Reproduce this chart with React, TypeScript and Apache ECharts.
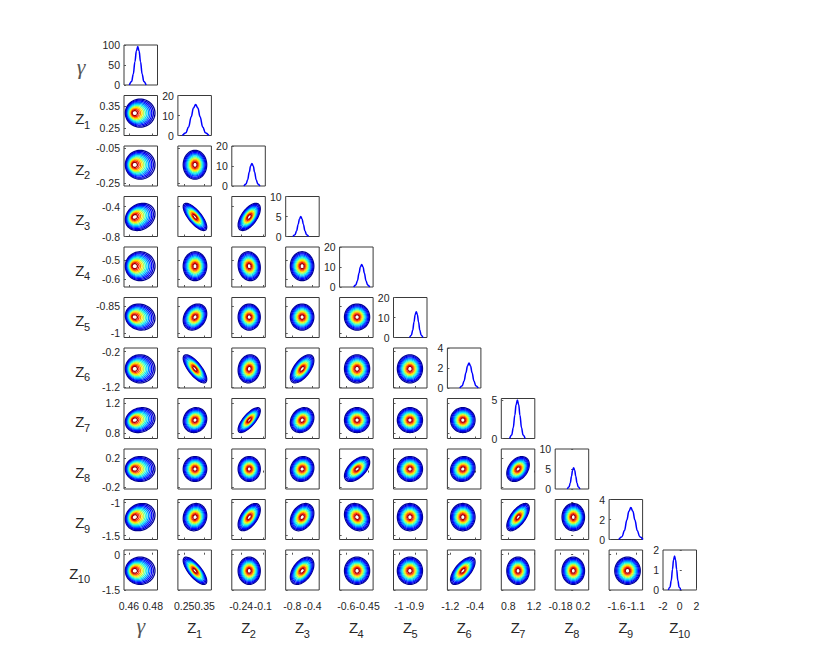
import React, { useEffect, useRef } from "react";
import * as echarts from "echarts";

// ---------- data ----------
const varSubscripts = ["", "1", "2", "3", "4", "5", "6", "7", "8", "9", "10"]; // "" = gamma

// column (x) axis ranges per variable
const xMin = [0.4558, 0.219, -0.3, -0.933, -0.647, -1.033, -1.29, 0.69, -0.27, -1.79, -2];
const xMax = [0.484, 0.383, -0.0846, -0.267, -0.413, -0.825, -0.21, 1.21, 0.297, -0.93, 2];
const xTicks = [
  [0.46, 0.48], [0.25, 0.35], [-0.24, -0.1], [-0.8, -0.4], [-0.6, -0.45],
  [-1, -0.9], [-1.2, -0.4], [0.8, 1.2], [-0.18, 0.2], [-1.6, -1.1], [-2, 0, 2],
];

// row (y) axis ranges per variable (row 0 is gamma, only a density)
const yMin = [0, 0.215, -0.2686, -0.8, -0.64, -1.023, -1.234, 0.731, -0.222, -1.558, -1.5];
const yMax = [0, 0.397, -0.036, -0.263, -0.4325, -0.804, -0.098, 1.264, 0.319, -0.952, 0.2];
const yTicks = [
  [], [0.25, 0.35], [-0.25, -0.05], [-0.8, -0.4], [-0.6, -0.5],
  [-1, -0.85], [-1.2, -0.2], [0.8, 1.2], [-0.2, 0.2], [-1.5, -1], [-1.5, 0],
];

// diagonal densities
const diagMax = [100, 20, 20, 10, 20, 20, 4, 5.25, 10, 4, 2];
const diagTicks = [
  [0, 50, 100], [0, 10, 20], [0, 10, 20], [0, 5, 10], [0, 10, 20],
  [0, 10, 20], [0, 2, 4], [0, 5], [0, 5, 10], [0, 2, 4], [0, 1, 2],
];
const densityX = [
  [0.4603, 0.4622, 0.4636, 0.465, 0.4662, 0.4674, 0.4685, 0.4697, 0.4711, 0.4725, 0.4744],
  [0.241, 0.2583, 0.2713, 0.2843, 0.2951, 0.3059, 0.3167, 0.3276, 0.3405, 0.3535, 0.3709],
  [-0.2221, -0.2084, -0.1981, -0.1878, -0.1792, -0.1706, -0.162, -0.1534, -0.1431, -0.1328, -0.1191],
  [-0.7892, -0.7476, -0.7164, -0.6853, -0.6593, -0.6333, -0.6073, -0.5814, -0.5502, -0.519, -0.4775],
  [-0.5488, -0.5338, -0.5226, -0.5113, -0.502, -0.4926, -0.4832, -0.4739, -0.4626, -0.4514, -0.4364],
  [-0.9334, -0.9223, -0.9139, -0.9055, -0.8986, -0.8916, -0.8846, -0.8777, -0.8693, -0.8609, -0.8498],
  [-0.8915, -0.812, -0.7524, -0.6928, -0.6431, -0.5934, -0.5437, -0.494, -0.4344, -0.3748, -0.2953],
  [0.8195, 0.8515, 0.8755, 0.8996, 0.9196, 0.9396, 0.9596, 0.9796, 1.0037, 1.0277, 1.0597],
  [-0.0653, -0.0367, -0.0152, 0.0062, 0.024, 0.0419, 0.0598, 0.0776, 0.099, 0.1205, 0.1491],
  [-1.5406, -1.458, -1.3961, -1.3342, -1.2826, -1.231, -1.1794, -1.1278, -1.0659, -1.004, -0.9214],
  [-1.361, -1.163, -1.015, -0.867, -0.744, -0.62, -0.497, -0.373, -0.225, -0.077, 0.121],
];
const densityY = [
  [0, 8.5, 26.7, 58.2, 84.7, 96, 84.7, 58.2, 26.7, 8.5, 0],
  [0, 1.4, 4.3, 9.4, 13.7, 15.5, 13.7, 9.4, 4.3, 1.4, 0],
  [0, 1.0, 3.1, 6.9, 10.0, 11.3, 10.0, 6.9, 3.1, 1.0, 0],
  [0, 0.45, 1.4, 3.0, 4.4, 5.0, 4.4, 3.0, 1.4, 0.45, 0],
  [0, 1.0, 3.1, 6.9, 10.0, 11.3, 10.0, 6.9, 3.1, 1.0, 0],
  [0, 1.1, 3.6, 7.8, 11.4, 12.9, 11.4, 7.8, 3.6, 1.1, 0],
  [0, 0.22, 0.7, 1.52, 2.2, 2.5, 2.2, 1.52, 0.7, 0.22, 0],
  [0, 0.45, 1.4, 3.05, 4.45, 5.05, 4.45, 3.05, 1.4, 0.45, 0],
  [0, 0.47, 1.5, 3.2, 4.7, 5.3, 4.7, 3.2, 1.5, 0.47, 0],
  [0, 0.28, 0.89, 1.94, 2.82, 3.2, 2.82, 1.94, 0.89, 0.28, 0],
  [0, 0.15, 0.47, 1.03, 1.5, 1.7, 1.5, 1.03, 0.47, 0.15, 0],
];

// joint posterior summaries for the contour panels
const modeX = [0.4639, 0.3026, -0.188, -0.607, -0.525, -0.931, -0.793, 0.95, 0.036, -1.317];
const sdX = [0.0055, 0.02534, 0.0314, 0.1029, 0.03874, 0.03444, 0.174, 0.0769, 0.0839, 0.1443];
const skewX = [0.44, 0, 0, 0, 0, 0, 0, 0, 0, 0];
const modeY = [0, 0.317, -0.1453, -0.537, -0.532, -0.911, -0.689, 0.976, 0.048, -1.219, -0.684];
const sdY = [0, 0.02812, 0.03698, 0.0806, 0.033, 0.03143, 0.1755, 0.073, 0.0741, 0.091, 0.2552];
const corr = [
  [],
  [0],
  [0, 0],
  [0.2, -0.75, 0.6],
  [0, 0, -0.1, 0],
  [-0.1, 0.25, 0, 0, 0],
  [0, -0.75, 0.1, 0.6, 0, 0],
  [0.15, 0.1, 0.75, 0.2, 0, 0, 0],
  [0, 0, 0, 0.1, 0.55, 0, 0.1, 0.35],
  [0.15, 0.1, 0.55, 0.3, -0.2, 0, 0, 0.65, 0],
  [0, -0.75, 0, 0.45, 0, 0, 0.65, 0, 0, 0],
];
// contour levels, as fractions of the peak density
const contourLevels = [0.076, 0.11, 0.155, 0.213, 0.282, 0.365, 0.458, 0.558, 0.661, 0.761, 0.85, 0.923];
const contourColors = [
  "#00008f", "#0000c8", "#0000ff", "#0048ff", "#0090ff", "#00d8ff",
  "#40ffbf", "#a0ff60", "#ffe600", "#ff9000", "#ff2000", "#a00000",
];

// ---------- layout ----------
const N = 11;
const LEFT0 = 124;
const DX = 53.9;
const TOP0 = 45;
const DY = 50.5;
const CW = 33.5;
const CH = 40;
const FONT = "'Liberation Sans', Arial, Helvetica, sans-serif";
const TXT = "#262626";

const fmt = (v: number) => String(+Number(v).toFixed(4));

function renderContour(_params: any, api: any) {
  const cx = api.value(0);
  const cy = api.value(1);
  const sx = api.value(2);
  const sy = api.value(3);
  const rho = api.value(4);
  const skew = api.value(5);
  const r = api.value(6);
  const k = api.value(7);
  const c = Math.sqrt(1 - rho * rho);
  const pts: number[][] = [];
  const n = 60;
  for (let t = 0; t < n; t++) {
    const a = (t / n) * Math.PI * 2;
    const u = Math.cos(a);
    const v = Math.sin(a);
    const x = cx + sx * r * (u + skew);
    const y = cy + sy * r * (rho * u + c * v);
    pts.push(api.coord([x, y]));
  }
  return {
    type: "polygon",
    shape: { points: pts },
    style: { fill: "none", stroke: contourColors[k], lineWidth: 1.25 },
  };
}

function buildOption() {
  const grid: any[] = [];
  const xAxis: any[] = [];
  const yAxis: any[] = [];
  const series: any[] = [];
  const graphic: any[] = [];

  const labelStyle = {
    color: TXT,
    fontFamily: FONT,
    fontSize: 10.5,
    showMinLabel: true,
    showMaxLabel: true,
    hideOverlap: false,
  };

  let g = 0;
  for (let i = 0; i < N; i++) {
    for (let j = 0; j <= i; j++) {
      const diag = i === j;
      grid.push({
        left: LEFT0 + DX * j,
        top: TOP0 + DY * i,
        width: CW,
        height: CH,
        show: true,
        borderColor: "#3a3a3a",
        borderWidth: 1,
        backgroundColor: "transparent",
        outerBoundsMode: "none",
        containLabel: false,
      });
      const showX = i === N - 1;
      const xIndex = xAxis.length;
      const evenTicks = xTicks[j].filter((_, m) => m % 2 === 0);
      const oddTicks = xTicks[j].filter((_, m) => m % 2 === 1);
      xAxis.push({
        type: "value",
        gridIndex: g,
        position: "bottom",
        min: xMin[j],
        max: xMax[j],
        axisLine: { show: false },
        splitLine: { show: false },
        axisTick: {
          show: !diag || j === N - 1,
          inside: true,
          length: 2,
          lineStyle: { color: "#555" },
          customValues: xTicks[j],
        },
        axisLabel: {
          show: showX,
          customValues: evenTicks,
          margin: 10,
          formatter: fmt,
          ...labelStyle,
        },
      });
      if (showX) {
        // second label row on the same scale, so that close labels are not dropped
        xAxis.push({
          type: "value",
          gridIndex: g,
          position: "bottom",
          offset: 0,
          min: xMin[j],
          max: xMax[j],
          axisLine: { show: false },
          splitLine: { show: false },
          axisTick: { show: false },
          axisLabel: {
            show: true,
            customValues: oddTicks,
            margin: 10,
            formatter: fmt,
            ...labelStyle,
          },
        });
      }
      const yIndex = yAxis.length;
      if (diag) {
        yAxis.push({
          type: "value",
          gridIndex: g,
          min: 0,
          max: diagMax[i],
          axisLine: { show: false },
          splitLine: { show: false },
          axisTick: { show: true, inside: true, length: 2, lineStyle: { color: "#555" }, customValues: diagTicks[i] },
          axisLabel: { show: true, customValues: diagTicks[i], margin: 4, formatter: fmt, ...labelStyle },
        });
        series.push({
          type: "line",
          xAxisIndex: xIndex,
          yAxisIndex: yIndex,
          data: densityX[i].map((x, m) => [x, densityY[i][m]]),
          showSymbol: false,
          smooth: 0.4,
          smoothMonotone: "x",
          silent: true,
          lineStyle: { color: "#0000ff", width: 1.5 },
        });
      } else {
        yAxis.push({
          type: "value",
          gridIndex: g,
          min: yMin[i],
          max: yMax[i],
          axisLine: { show: false },
          splitLine: { show: false },
          axisTick: { show: true, inside: true, length: 2, lineStyle: { color: "#555" }, customValues: yTicks[i] },
          axisLabel: { show: j === 0, customValues: yTicks[i], margin: 4, formatter: fmt, ...labelStyle },
        });
        series.push({
          type: "custom",
          xAxisIndex: xIndex,
          yAxisIndex: yIndex,
          clip: true,
          silent: true,
          renderItem: renderContour,
          encode: { x: 0, y: 1 },
          data: contourLevels.map((lev, k) => [
            modeX[j],
            modeY[i],
            sdX[j],
            sdY[i],
            corr[i][j],
            skewX[j],
            Math.sqrt(-2 * Math.log(lev)),
            k,
          ]),
        });
      }
      g++;
    }
  }

  const gammaFont = `italic 22px 'Liberation Serif', 'DejaVu Serif', serif`;
  // row labels
  for (let i = 0; i < N; i++) {
    const rc = TOP0 + DY * i + CH / 2;
    const sub = varSubscripts[i];
    if (!sub) {
      graphic.push({
        type: "text",
        x: 81,
        y: rc + 1,
        style: { text: "γ", fill: "#555", font: gammaFont, align: "center", verticalAlign: "middle" },
      });
    } else {
      const zx = 90 - 8.6 - 6.1 * sub.length;
      graphic.push({
        type: "text",
        x: zx,
        y: rc + 3,
        style: { text: "Z", fill: TXT, font: `15px ${FONT}`, align: "left", verticalAlign: "middle" },
      });
      graphic.push({
        type: "text",
        x: zx + 8.6,
        y: rc + 9,
        style: { text: sub, fill: TXT, font: `11px ${FONT}`, align: "left", verticalAlign: "middle" },
      });
    }
  }
  // column labels
  for (let j = 0; j < N; j++) {
    const cc = LEFT0 + DX * j + CW / 2;
    const sub = varSubscripts[j];
    if (!sub) {
      graphic.push({
        type: "text",
        x: cc,
        y: 625,
        style: { text: "γ", fill: "#555", font: gammaFont, align: "center", verticalAlign: "middle" },
      });
    } else {
      const w = 8.6 + 6.1 * sub.length;
      const zx = cc - w / 2;
      graphic.push({
        type: "text",
        x: zx,
        y: 627.5,
        style: { text: "Z", fill: TXT, font: `15px ${FONT}`, align: "left", verticalAlign: "middle" },
      });
      graphic.push({
        type: "text",
        x: zx + 8.6,
        y: 634,
        style: { text: sub, fill: TXT, font: `11px ${FONT}`, align: "left", verticalAlign: "middle" },
      });
    }
  }

  return {
    animation: false,
    backgroundColor: "#ffffff",
    grid,
    xAxis,
    yAxis,
    series,
    graphic,
  };
}

export default function App() {
  const ref = useRef<HTMLDivElement | null>(null);
  useEffect(() => {
    if (!ref.current) return;
    const chart = echarts.init(ref.current, undefined, { renderer: "svg" });
    chart.setOption(buildOption() as any);
    return () => chart.dispose();
  }, []);
  return (
    <div
      ref={ref}
      style={{ position: "fixed", left: 0, top: 0, width: 830, height: 664, background: "#fff" }}
    />
  );
}
